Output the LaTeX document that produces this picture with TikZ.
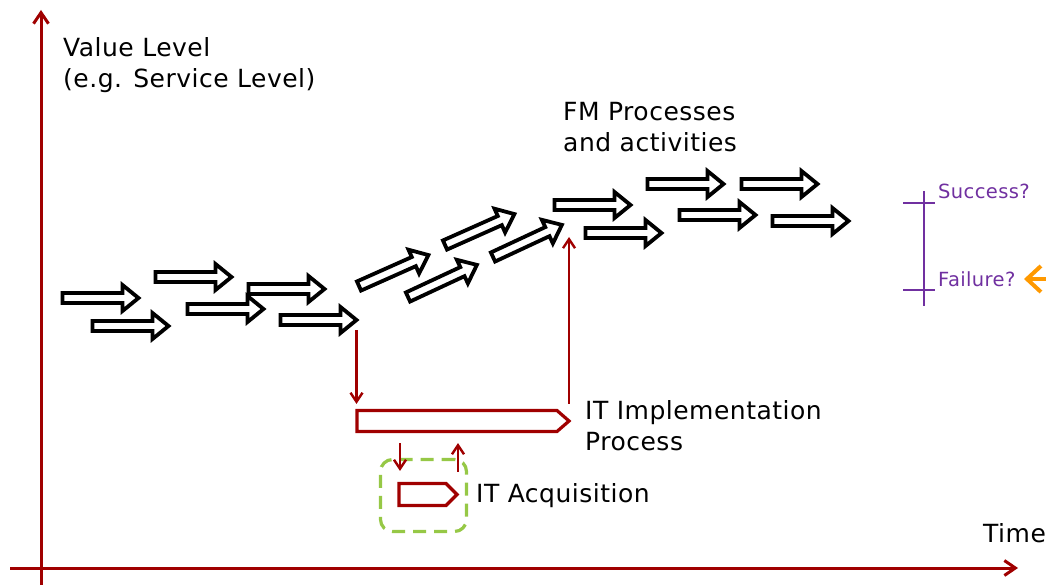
\documentclass[tikz,border=0pt]{standalone}
\usepackage{fontspec}
\setmainfont[LetterSpace=2]{DejaVu Sans}
\usetikzlibrary{arrows.meta,shapes.symbols}
\definecolor{axisred}{RGB}{160,0,0}
\definecolor{scalepurple}{RGB}{112,48,160}
\definecolor{framegreen}{RGB}{150,200,70}
\definecolor{markorange}{RGB}{255,153,0}
\tikzset{
  lbl/.style={inner sep=0pt, anchor=base west, align=left, font=\fontsize{25}{31}\selectfont},
  smalllbl/.style={inner sep=0pt, anchor=base west, text=scalepurple, font=\fontsize{19.5}{23}\selectfont},
  axis/.style={draw=axisred, line width=3pt, -{Straight Barb[length=11pt,width=15pt]}},
  link/.style={draw=axisred, line width=2.4pt, -{Straight Barb[length=9pt,width=12pt]}},
  procbar/.style={shape=signal, signal to=east, signal from=nowhere, draw=axisred,
    line width=3.2pt, inner sep=0pt, fill=white},
  frame/.style={draw=framegreen, line width=3.2pt, rounded corners=12pt,
    dash pattern=on 13pt off 8pt, inner sep=0pt},
  scaleline/.style={draw=scalepurple, line width=2.2pt},
  marker/.style={draw=markorange, line width=4pt, -{Straight Barb[length=14pt,width=26pt]}},
  flowline/.style={draw=black, fill=white, line width=3.8pt, miter limit=10},
  flow/.pic={
    \draw[flowline] (0,-5) -- (60,-5) -- (60,-13) -- (76,0) -- (60,13) -- (60,5) -- (0,5) -- cycle;
    \coordinate (-tip) at (76,0);
  }
}
\begin{document}
\begin{tikzpicture}[x=1pt,y=-1pt]
\useasboundingbox (0,0) rectangle (1046,585);
\clip (0,0) rectangle (1046,585);

% axes
\coordinate (ybot) at (41,590);
\coordinate (ytop) at (41,10);
\coordinate (xleft) at (10,568);
\coordinate (xright) at (1018,568);
\draw[axis] (ybot) -- (ytop);
\draw[axis] (xleft) -- (xright);

% axis labels (a multi-line node sits on the baseline of its last line)
\node[lbl] (value) at (63,88) {Value Level\\(e.g. Service Level)};
\node[lbl] (time) at (983,542) {Time};

% FM processes and activities
\pic (a1) at (62.5,298) {flow};
\pic (a2) at (92.5,326) {flow};
\pic (a3) at (155.5,277) {flow};
\pic (a4) at (187.5,309) {flow};
\pic (a5) at (248.5,289) {flow};
\pic (a6) at (280.5,320) {flow};
\pic[rotate=24] (a7) at (359,286) {flow};
\pic[rotate=25] (a8) at (408,297) {flow};
\pic[rotate=24] (a9) at (445,245) {flow};
\pic[rotate=25] (a10) at (493,257) {flow};
\pic (a11) at (554.5,205) {flow};
\pic (a12) at (585.5,233) {flow};
\pic (a13) at (647.5,184) {flow};
\pic (a14) at (741.5,184) {flow};
\pic (a15) at (679.5,215) {flow};
\pic (a16) at (772.5,221) {flow};
\node[lbl] (fm) at (563,152) {FM Processes\\and activities};

% IT implementation process
\node[procbar, minimum width=212pt, minimum height=21pt, signal pointer angle=82] (itbar) at (457,421) {};
\node[lbl] (itlbl) at (585,450) {IT Implementation\\Process};
\coordinate (rise) at (569,237);
\draw[link] ([yshift=-10pt]a6-tip) -- ([yshift=5pt]a6-tip |- itbar.north);
\draw[link] ([yshift=5pt]rise |- itbar.north) -- (rise);

% IT acquisition
\node[frame, minimum width=86pt, minimum height=72pt] (box) at (423.5,495.5) {};
\node[procbar, minimum width=58pt, minimum height=22pt, signal pointer angle=90] (acq) at (422.5,494.5) {};
\node[lbl] (acqlbl) at (476,502) {IT Acquisition};
\coordinate (acqin) at (400,0);
\coordinate (acqout) at (458,0);
\draw[link] ([yshift=-10pt]itbar.south -| acqin) -- ([yshift=11pt]acq.north -| acqin);
\draw[link] ([yshift=10pt]acq.north -| acqout) -- ([yshift=-10pt]itbar.south -| acqout);

% outcome scale
\coordinate (stop) at (924,191);
\coordinate (sbot) at (924,306);
\coordinate (hiL) at (903,203);
\coordinate (hiR) at (935,203);
\coordinate (loL) at (903,290);
\coordinate (loR) at (935,290);
\draw[scaleline] (stop) -- (sbot);
\draw[scaleline] (hiL) -- (hiR);
\draw[scaleline] (loL) -- (loR);
\node[smalllbl] (success) at (938,199) {Success?};
\node[smalllbl] (failure) at (938,287) {Failure?};

% marker pointing at the failure outcome
\coordinate (markfrom) at (1090,279);
\coordinate (marktip) at (1024,279);
\draw[marker] (markfrom) -- (marktip);
\end{tikzpicture}
\end{document}
